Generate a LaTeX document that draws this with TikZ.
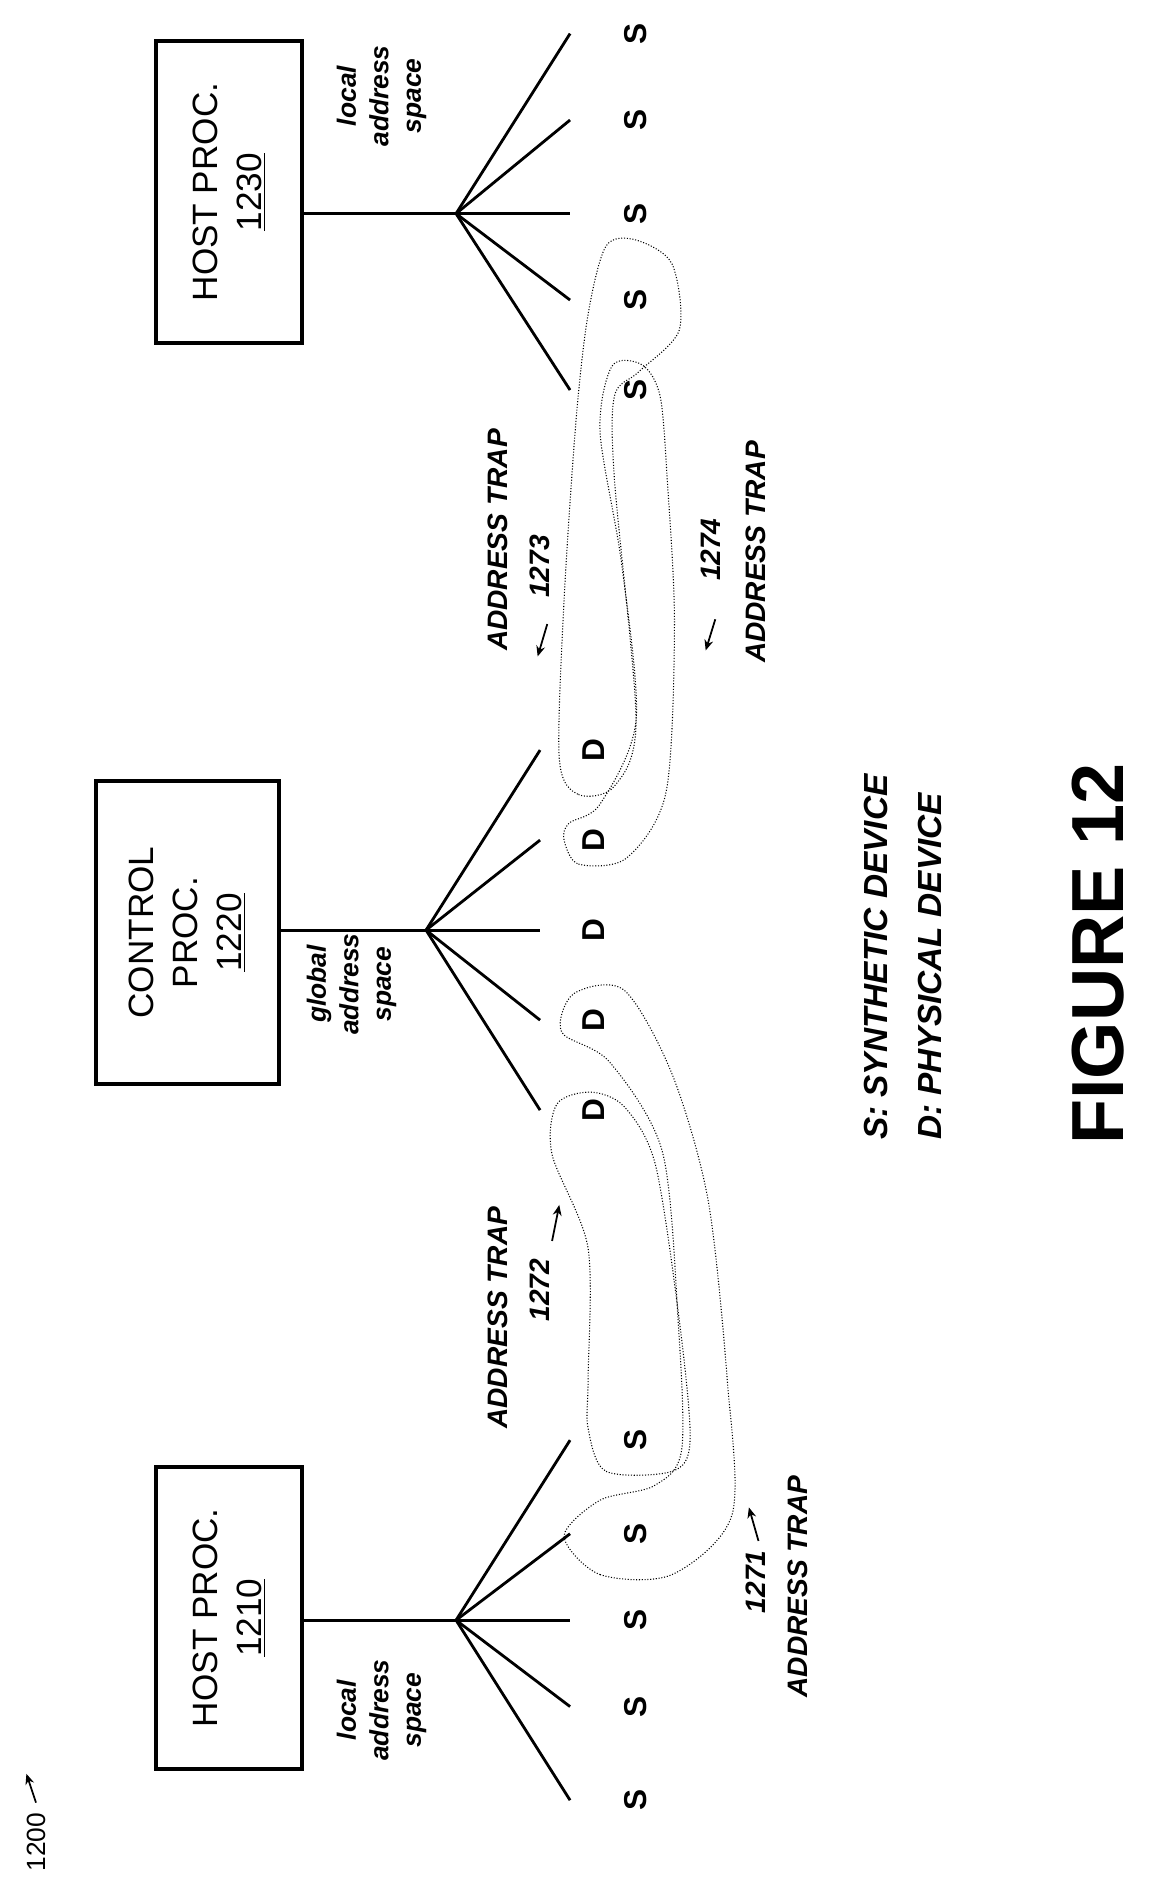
\documentclass[tikz,border=0pt]{standalone}
\usepackage{fontspec}
\setmainfont{Liberation Sans}
\usetikzlibrary{arrows.meta}
\begin{document}
\begin{tikzpicture}[x=0.024cm,y=-0.024cm,
    proc/.style ={draw, line width=2.2pt, rotate=90, align=center, minimum width=172pt, minimum height=83pt, inner sep=0pt, font=\fontsize{20}{25}\selectfont},
    dev/.style ={rotate=90, font=\bfseries\fontsize{18}{20}\selectfont},
    space/.style ={rotate=90, align=center, font=\bfseries\itshape\fontsize{15}{18.5}\selectfont},
    trap/.style ={rotate=90, align=center, font=\bfseries\itshape\fontsize{16}{19}\selectfont},
    spoke/.style ={line width=1.6pt},
    loop/.style ={densely dotted, line width=0.6pt},
    tip/.style ={-{Stealth[length=6pt,width=5pt]}, line width=1pt}]
   \useasboundingbox (0,0) rectangle (959,1569);
   \node[proc] (H1) at (191,1348) {HOST PROC.\\\underline{1210}};
   \node[proc, minimum height=104pt] (C) at (156,777) {CONTROL\\PROC.\\\underline{1220}};
   \node[proc] (H2) at (191,160) {HOST PROC.\\\underline{1230}};
   \coordinate (h1) at (380,1350);
   \coordinate (c) at (355,775);
   \coordinate (h2) at (380,178);
   \draw[spoke] (H1.south |- h1) -- (h1);
   \draw[spoke] (C.south |- c) -- (c);
   \draw[spoke] (H2.south |- h2) -- (h2);
   % fans
   \foreach \i/\y in {1/1500,2/1422,3/1350,4/1278,5/1200}{
     \node[dev] (s1\i) at (530,\y) {S};
     \draw[spoke] (h1) -- (475,\y);}
   \foreach \i/\y in {1/925,2/850,3/775,4/700,5/625}{
     \node[dev] (d\i) at (495,\y) {D};
     \draw[spoke] (c) -- (450,\y);}
   \foreach \i/\y in {1/325,2/250,3/178,4/100,5/28}{
     \node[dev] (s2\i) at (530,\y) {S};
     \draw[spoke] (h2) -- (475,\y);}
   \node[space] (l1) at (318,1425) {local\\address\\space};
   \node[space] (g) at (293,820) {global\\address\\space};
   \node[space] (l2) at (318,80) {local\\address\\space};
   % address traps
   \draw[loop] plot[smooth cycle] coordinates {(470,1280) (500,1312) (560,1312) (610,1262) (606,1150) (590,1000) (560,895) (520,825) (478,828) (468,860) (508,885) (552,960) (565,1100) (568,1208) (545,1238) (500,1250)};
   \draw[loop] plot[smooth cycle] coordinates {(490,1190) (505,1226) (560,1226) (575,1200) (566,1100) (546,970) (520,922) (492,910) (464,920) (460,962) (490,1040) (490,1150)};
   \draw[loop] plot[smooth cycle] coordinates {(466,632) (482,662) (512,655) (530,600) (512,400) (512,330) (532,310) (566,275) (560,220) (530,200) (505,205) (490,262) (480,350) (470,500)};
   \draw[loop] plot[smooth cycle] coordinates {(470,700) (482,720) (522,715) (555,660) (562,520) (556,400) (550,330) (535,304) (510,305) (500,360) (518,470) (530,600) (500,670) (474,686)};
   \node[trap] (t1) at (665,1322) {ADDRESS TRAP};
   \node[trap] (n1) at (630,1318) {1271};
   \node[trap] (t2) at (415,1098) {ADDRESS TRAP};
   \node[trap] (n2) at (450,1075) {1272};
   \node[trap] (t3) at (415,450) {ADDRESS TRAP};
   \node[trap] (n3) at (450,472) {1273};
   \node[trap] (t4) at (630,460) {ADDRESS TRAP};
   \node[trap] (n4) at (592,458) {1274};
   \coordinate (a1) at (632,1284); \coordinate (b1) at (624,1256);
   \coordinate (a2) at (460,1034); \coordinate (b2) at (466,1004);
   \coordinate (a3) at (456,520); \coordinate (b3) at (448,547);
   \coordinate (a4) at (596,516); \coordinate (b4) at (588,542);
   \draw[tip] (a1) -- (b1);
   \draw[tip] (a2) -- (b2);
   \draw[tip] (a3) -- (b3);
   \draw[tip] (a4) -- (b4);
   % legend
   \node[rotate=90, align=left, anchor=south west, font=\bfseries\itshape\fontsize{19}{31}\selectfont] (leg) at (790,955) {S: SYNTHETIC DEVICE\\D: PHYSICAL DEVICE};
   \node[rotate=90, font=\bfseries\fontsize{42}{46}\selectfont] (fig) at (915,795) {FIGURE 12};
   \node[rotate=90, font=\fontsize{15}{17}\selectfont] (n) at (30,1535) {1200};
   \coordinate (a5) at (30,1502); \coordinate (b5) at (22,1478);
   \draw[tip] (a5) -- (b5);
 \end{tikzpicture}
\end{document}
